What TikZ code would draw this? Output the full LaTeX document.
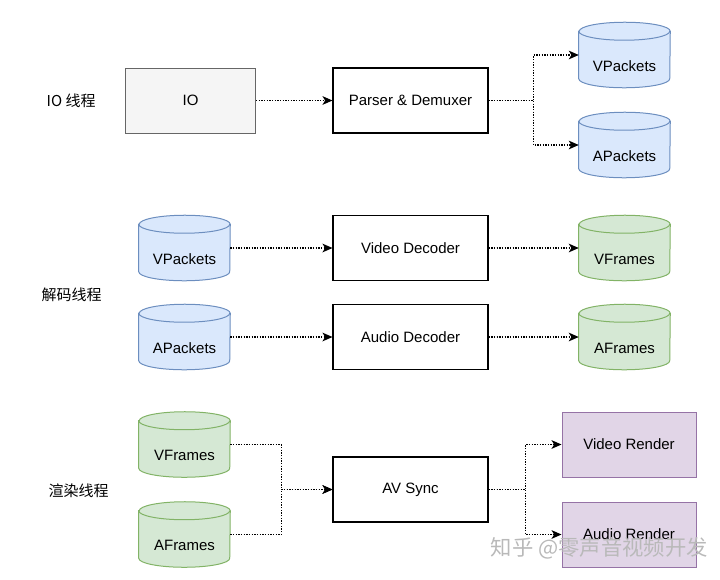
\documentclass[tikz,border=0pt]{standalone}
\usepackage{fontspec}
\setmainfont{Liberation Sans}
\newfontfamily\cjk{Noto Sans CJK SC}
\usepackage{tikz}
\usetikzlibrary{arrows.meta,calc,backgrounds}
\definecolor{bluefill}{HTML}{DAE8FC}
\definecolor{blueline}{HTML}{6C8EBF}
\definecolor{greenfill}{HTML}{D5E8D4}
\definecolor{greenline}{HTML}{82B366}
\definecolor{purplefill}{HTML}{E1D5E7}
\definecolor{purpleline}{HTML}{9673A6}
\definecolor{grayfill}{HTML}{F5F5F5}
\definecolor{grayline}{HTML}{666666}

\begin{document}
\begin{tikzpicture}[
        x=0.75pt, y=-0.75pt,
        every node/.style={font=\fontsize{11.25}{13}\selectfont},
        box/.style={draw=black, line width=0.8pt, fill=white, minimum width=116.25pt, minimum height=48.75pt, inner sep=0pt},
        render/.style={fill=purplefill, draw=purpleline, line width=0.75pt, minimum width=100.5pt},
        store/.style={minimum width=68.25pt, minimum height=48.75pt, inner sep=0pt, text height=24pt, text depth=0pt},
        thread/.style={anchor=west, font=\cjk\fontsize{11.25}{13}\selectfont},
        arrow/.style={-{Stealth[length=7.5pt,width=6.5pt,inset=2pt]}, line width=0.8pt, dash pattern=on 1pt off 1pt}
    ]
        \useasboundingbox (0,0) rectangle (720,579);

        % IO thread
        \node[thread] (t1) at (42,101) {IO 线程};
        \node[box, fill=grayfill, draw=grayline, line width=0.75pt, minimum width=97.5pt] (io) at (190.5,100.5) {IO};
        \node[box] (pd) at (410.5,100.5) {Parser \& Demuxer};
        \node[store] (vpk1) at (624.5,55) {VPackets};
        \node[store] (apk1) at (624.5,145) {APackets};

        % decode thread
        \node[thread] (t2) at (37,295) {解码线程};
        \node[store] (vpk2) at (184.5,248) {VPackets};
        \node[box] (vdec) at (410.5,248) {Video Decoder};
        \node[store] (vfr1) at (624.5,248) {VFrames};
        \node[store] (apk2) at (184.5,337) {APackets};
        \node[box] (adec) at (410.5,337) {Audio Decoder};
        \node[store] (afr1) at (624.5,337) {AFrames};

        % render thread
        \node[thread] (t3) at (44,491) {渲染线程};
        \node[store] (vfr2) at (184.5,444.5) {VFrames};
        \node[store] (afr2) at (184.5,534.5) {AFrames};
        \node[box] (sync) at (410.5,489.5) {AV Sync};
        \node[box, render] (vrd) at (629,444.5) {Video Render};
        \node[box, render] (ard) at (629,534.5) {Audio Render};

        \node[anchor=west, font=\cjk\fontsize{16}{18}\selectfont, text=gray!55] (wm) at (486,548) {知乎 @零声音视频开发};

        % cylinders behind the store labels
        \begin{scope}[on background layer]
            \foreach \n/\f/\l in {vpk1/bluefill/blueline, apk1/bluefill/blueline, vpk2/bluefill/blueline, apk2/bluefill/blueline,
                                  vfr1/greenfill/greenline, afr1/greenfill/greenline, vfr2/greenfill/greenline, afr2/greenfill/greenline}{
                \path[fill=\f, draw=\l, line width=0.75pt]
                    ($(\n.north west)+(0,9)$) -- ($(\n.south west)+(0,-9)$)
                    arc[start angle=180, end angle=360, x radius=34.125pt, y radius=6.75pt]
                    -- ($(\n.north east)+(0,9)$)
                    arc[start angle=0, end angle=180, x radius=34.125pt, y radius=6.75pt] -- cycle;
                \draw[\l, line width=0.75pt] ($(\n.north west)+(0,9)$)
                    arc[start angle=180, end angle=360, x radius=34.125pt, y radius=6.75pt];
            }
        \end{scope}

        \draw[arrow] (io) -- (pd);
        \draw[arrow] (pd.east) -- +(45,0) |- (vpk1.west);
        \draw[arrow] (pd.east) -- +(45,0) |- (apk1.west);
        \draw[arrow] (vpk2) -- (vdec);
        \draw[arrow] (vdec) -- (vfr1);
        \draw[arrow] (apk2) -- (adec);
        \draw[arrow] (adec) -- (afr1);
        \draw[arrow] (vfr2.east) -- +(51,0) |- (sync.west);
        \draw[arrow] (afr2.east) -- +(51,0) |- (sync.west);
        \draw[arrow] (sync.east) -- +(37,0) |- (vrd.west);
        \draw[arrow] (sync.east) -- +(37,0) |- (ard.west);
    \end{tikzpicture}
\end{document}
